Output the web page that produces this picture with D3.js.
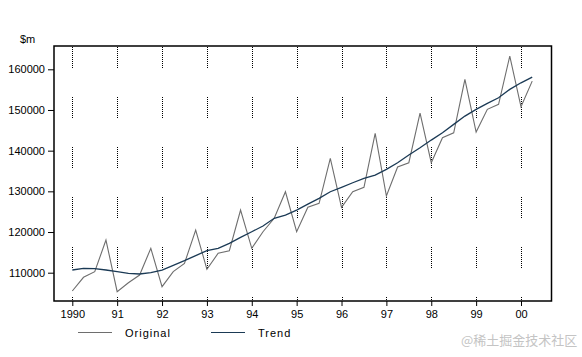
<!DOCTYPE html>
<html><head><meta charset="utf-8">
<script src="https://cdn.jsdelivr.net/npm/d3@7"></script>
<style>body{margin:0;background:#fff}svg{display:block}</style>
</head><body><svg id="c" width="582" height="357"></svg>
<script>
const startYear = 1990;
const yearLabels = ["1990","91","92","93","94","95","96","97","98","99","00"];
const yTicks = [110000,120000,130000,140000,150000,160000];
const original = [105500,108870,110250,118030,105330,107540,109430,116000,106560,110250,112300,120500,
  110840,114770,115400,125400,116000,120070,123370,129900,120070,126100,127050,138100,126070,129900,
  130980,144250,128850,135980,137030,149200,137030,143170,144400,157520,144570,150150,151380,163240,150790,157100];
const trend = [110660,111080,111000,110660,110250,109850,109680,110000,110660,111810,112950,114200,
  115400,116000,117220,118700,120070,121470,123370,124180,125400,126850,128280,129900,130980,132110,
  133190,134000,135400,137030,138920,140700,142600,144400,146460,148500,150150,151620,153000,155060,156680,158080];

const svg = d3.select("#c");
const frame = {l:54, r:551.5, t:46, b:301};
const x = d3.scaleLinear().domain([1990,2000]).range([72.3,521]);
const y = d3.scaleLinear().domain([110000,160000]).range([272.7,69.3]);
const font = "'Liberation Sans', Arial, sans-serif";

// dotted vertical grid
const dash = [];
for (let i=0;i<11;i++){dash.push(1,1);} dash[dash.length-1]=29;
svg.append("g").selectAll("line").data(d3.range(0,11)).join("line")
  .attr("x1",d=>Math.round(x(startYear+d))+0.5).attr("x2",d=>Math.round(x(startYear+d))+0.5)
  .attr("y1",frame.t+1).attr("y2",frame.b)
  .attr("stroke","#000").attr("stroke-width",1).attr("stroke-dasharray",dash.join(","));

// lines
const xi = (d,i)=>x(startYear+i/4);
svg.append("path").datum(original)
  .attr("d", d3.line().x(xi).y(d=>y(d)))
  .attr("fill","none").attr("stroke","#6e6e6e").attr("stroke-width",1.1);
svg.append("path").datum(trend)
  .attr("d", d3.line().x(xi).y(d=>y(d)))
  .attr("fill","none").attr("stroke","#1b3a55").attr("stroke-width",1.3);

// frame
svg.append("rect").attr("x",frame.l).attr("y",frame.t)
  .attr("width",frame.r-frame.l).attr("height",frame.b-frame.t)
  .attr("fill","none").attr("stroke","#000").attr("stroke-width",1.5);

// y axis
const yAxis = d3.axisLeft(y).tickValues(yTicks).tickSize(6).tickPadding(3).tickFormat(d3.format("d"));
const gy = svg.append("g").attr("transform",`translate(${frame.l},0)`).call(yAxis);
gy.select(".domain").remove();
gy.selectAll("text").attr("font-family",font).attr("font-size",11).attr("fill","#000");

// x axis
const xAxis = d3.axisBottom(x).tickValues(d3.range(1990,2001)).tickSize(5).tickPadding(4)
  .tickFormat((d,i)=>yearLabels[i]);
const gx = svg.append("g").attr("transform",`translate(0,${frame.b})`).call(xAxis);
gx.select(".domain").remove();
gx.selectAll("text").attr("font-family",font).attr("font-size",11).attr("fill","#000");

// unit label
svg.append("text").attr("x",20).attr("y",43).text("$m")
  .attr("font-family",font).attr("font-size",11);

// legend
const legend = [{name:"Original",color:"#6e6e6e",x:78},{name:"Trend",color:"#1b3a55",x:211}];
const lg = svg.append("g").selectAll("g").data(legend).join("g");
lg.append("line").attr("x1",d=>d.x).attr("x2",d=>d.x+34).attr("y1",332.5).attr("y2",332.5)
  .attr("stroke",d=>d.color).attr("stroke-width",1.2);
lg.append("text").attr("x",d=>d.x+47).attr("y",336.5).text(d=>d.name)
  .attr("font-family",font).attr("font-size",11).attr("letter-spacing",1);

// watermark
svg.append("text").attr("x",461).attr("y",345).text("@稀土掘金技术社区")
  .attr("font-family","'Noto Sans CJK SC', sans-serif").attr("font-size",13).attr("fill","#c4c4c4");
</script></body></html>
